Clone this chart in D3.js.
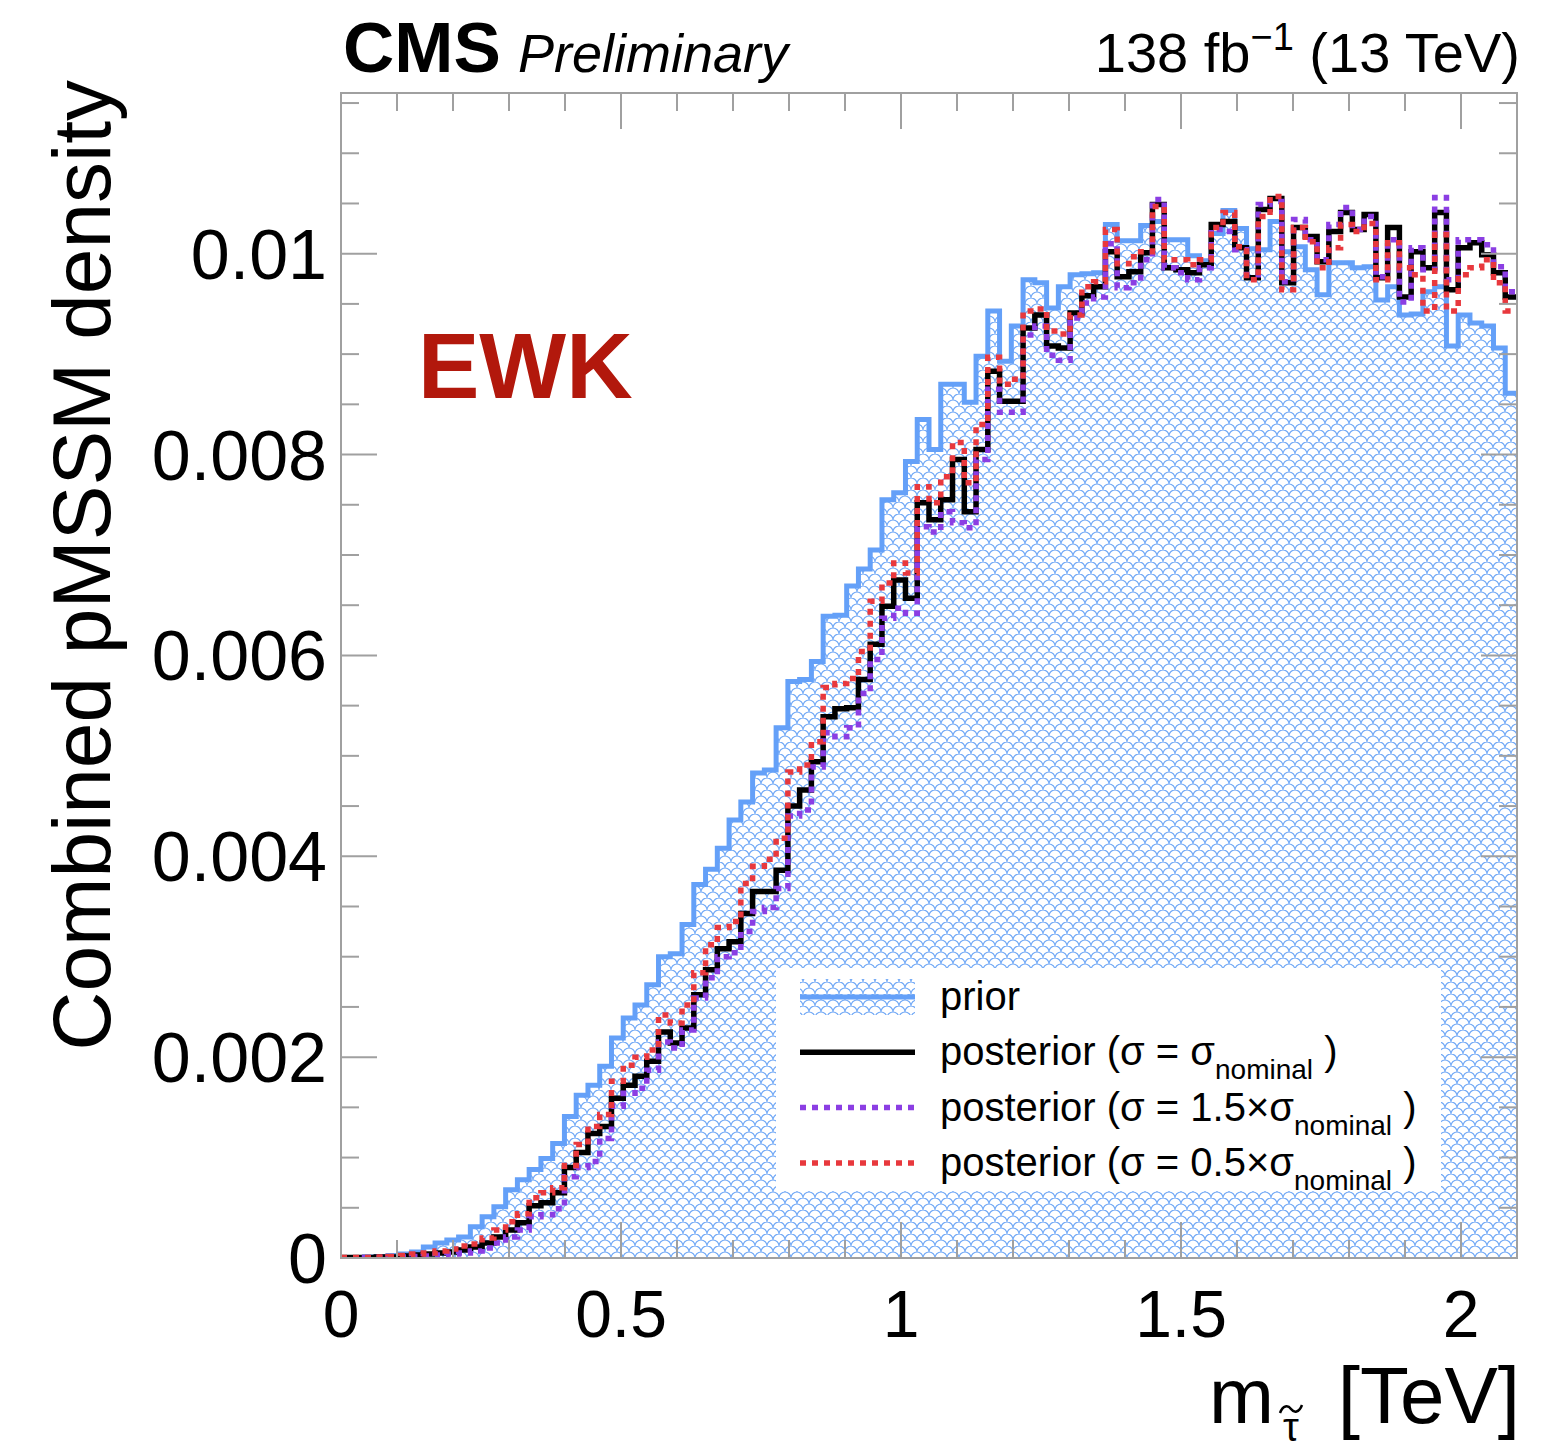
<!DOCTYPE html>
<html>
<head>
<meta charset="utf-8">
<script src="https://cdn.jsdelivr.net/npm/d3@7"></script>
<style>
  body { margin: 0; background: #fff; }
  svg { display: block; font-family: "Liberation Sans", Arial, Helvetica, sans-serif; }
</style>
</head>
<body>
<svg id="chart" width="1562" height="1453"></svg>
<script>
// ─── Data (densities in units of 1e-3, 100 bins from 0 to 2.1 TeV) ──────────
const unit = 1e-3;
const xRange = [0, 2.1];
const nBins = 100;

const prior = [
  0.0, 0.005, 0.01, 0.015, 0.025, 0.04, 0.06, 0.11, 0.15, 0.18,
  0.21, 0.31, 0.41, 0.51, 0.68, 0.78, 0.88, 0.99, 1.14, 1.41,
  1.62, 1.72, 1.91, 2.19, 2.39, 2.52, 2.72, 3.00, 3.03, 3.32,
  3.72, 3.87, 4.08, 4.36, 4.54, 4.83, 4.86, 5.28, 5.74, 5.76,
  5.94, 6.39, 6.40, 6.69, 6.86, 7.05, 7.55, 7.62, 7.93, 8.35,
  8.05, 8.70, 8.70, 8.52, 8.98, 9.43, 8.93, 9.28, 9.74, 9.71,
  9.46, 9.67, 9.79, 9.80, 9.81, 10.29, 10.13, 10.13, 10.28, 10.32,
  10.14, 10.14, 9.98, 9.93, 10.20, 10.43, 10.25, 10.05, 10.04, 10.32,
  10.02, 10.07, 9.84, 9.59, 9.91, 9.91, 9.86, 9.87, 9.54, 9.67,
  9.39, 9.40, 9.62, 9.67, 9.08, 9.39, 9.31, 9.28, 9.06, 8.61
];

const postNominal = [
  0.005, 0.005, 0.005, 0.01, 0.01, 0.02, 0.03, 0.04, 0.05, 0.06,
  0.08, 0.11, 0.15, 0.21, 0.28, 0.35, 0.52, 0.55, 0.65, 0.90,
  1.05, 1.24, 1.31, 1.59, 1.72, 1.81, 1.96, 2.25, 2.14, 2.29,
  2.62, 2.87, 3.08, 3.15, 3.43, 3.65, 3.65, 3.86, 4.50, 4.66,
  4.94, 5.39, 5.47, 5.48, 5.76, 6.11, 6.49, 6.75, 6.57, 7.52,
  7.35, 7.55, 7.95, 7.43, 8.05, 8.83, 8.53, 8.53, 9.26, 9.39,
  9.08, 9.06, 9.41, 9.58, 9.67, 10.02, 9.77, 9.82, 10.01, 10.49,
  9.86, 9.84, 9.81, 9.89, 10.29, 10.32, 10.06, 9.76, 10.44, 10.55,
  9.71, 10.26, 10.17, 9.92, 10.22, 10.41, 10.24, 10.39, 9.76, 10.26,
  9.57, 10.02, 9.86, 10.41, 9.64, 10.06, 10.11, 9.99, 9.81, 9.57
];

const postWide = [ // sigma = 1.5 x nominal
  0.0, 0.0, 0.005, 0.005, 0.01, 0.01, 0.015, 0.02, 0.03, 0.04,
  0.05, 0.07, 0.10, 0.15, 0.21, 0.28, 0.41, 0.43, 0.49, 0.81,
  0.90, 0.96, 1.19, 1.51, 1.64, 1.69, 1.87, 2.15, 2.09, 2.27,
  2.59, 2.79, 3.00, 3.04, 3.25, 3.45, 3.49, 3.68, 4.40, 4.46,
  4.89, 5.23, 5.19, 5.28, 5.62, 5.96, 6.37, 6.47, 6.42, 7.28,
  7.23, 7.43, 7.32, 7.27, 7.95, 8.65, 8.42, 8.42, 9.19, 9.28,
  8.99, 8.94, 9.36, 9.51, 9.57, 10.10, 9.66, 9.71, 9.94, 10.54,
  9.86, 9.81, 9.74, 9.86, 10.24, 10.22, 10.04, 9.79, 10.49, 10.52,
  9.72, 10.34, 10.14, 9.94, 10.29, 10.46, 10.24, 10.37, 9.77, 10.14,
  9.52, 10.06, 9.84, 10.56, 9.74, 10.14, 10.14, 10.09, 9.87, 9.62
];

const postNarrow = [ // sigma = 0.5 x nominal
  0.005, 0.005, 0.005, 0.01, 0.015, 0.025, 0.04, 0.05, 0.07, 0.09,
  0.12, 0.14, 0.20, 0.28, 0.36, 0.44, 0.60, 0.65, 0.70, 0.92,
  1.13, 1.31, 1.43, 1.76, 1.92, 2.00, 2.07, 2.42, 2.34, 2.52,
  2.84, 3.12, 3.29, 3.35, 3.73, 3.90, 3.97, 4.18, 4.84, 4.91,
  5.14, 5.68, 5.72, 5.77, 6.04, 6.54, 6.72, 6.92, 6.82, 7.68,
  7.52, 7.78, 8.12, 7.72, 8.30, 8.97, 8.70, 8.75, 9.43, 9.45,
  9.23, 9.20, 9.39, 9.67, 9.72, 10.24, 9.90, 9.97, 10.02, 10.47,
  9.94, 9.94, 9.89, 9.94, 10.26, 10.41, 10.07, 9.74, 10.37, 10.57,
  9.64, 10.26, 10.12, 9.86, 10.06, 10.29, 10.22, 10.30, 9.74, 10.11,
  9.86, 9.79, 9.43, 10.19, 9.43, 9.79, 9.86, 9.94, 9.71, 9.43
];

const yMax = 0.0116;
const yMajorTicks = [0, 0.002, 0.004, 0.006, 0.008, 0.01];
const yTickLabels = ['0', '0.002', '0.004', '0.006', '0.008', '0.01'];
const xMajorTicks = [0, 0.5, 1, 1.5, 2];
const xTickLabels = ['0', '0.5', '1', '1.5', '2'];

const legendLabels = [
  { key: 'prior', main: 'prior' },
  { key: 'nominal', main: 'posterior (\u03c3 = \u03c3', sub: 'nominal', tail: ' )' },
  { key: 'wide', main: 'posterior (\u03c3 = 1.5\u00d7\u03c3', sub: 'nominal', tail: ' )' },
  { key: 'narrow', main: 'posterior (\u03c3 = 0.5\u00d7\u03c3', sub: 'nominal', tail: ' )' }
];

// ─── Styles ──────────────────────────────────────────────────────────────────
const priorBlue = '#64a0f8';
const hatchBlue = '#72a9f6';
const styles = {
  nominal: { color: '#000000', dash: null },
  wide:    { color: '#8b3ee3', dash: '6,6' },
  narrow:  { color: '#e8383d', dash: '6,6' }
};
const frameGrey = '#a0a0a0';

// ─── Layout ──────────────────────────────────────────────────────────────────
const frame = { left: 341, right: 1517, top: 93, bottom: 1258 };

const svg = d3.select('#chart');
const x = d3.scaleLinear().domain(xRange).range([frame.left, frame.right]);
const y = d3.scaleLinear().domain([0, yMax]).range([frame.bottom, frame.top]);

const edges = d3.range(nBins + 1).map(i => xRange[0] + i * (xRange[1] - xRange[0]) / nBins);

function stepPoints(vals) {
  const pts = vals.map((v, i) => [edges[i], v * unit]);
  pts.push([edges[nBins], vals[nBins - 1] * unit]);
  return pts;
}

const defs = svg.append('defs');

// fish-scale hatch like the ROOT fill style
const pat = defs.append('pattern')
  .attr('id', 'scales')
  .attr('patternUnits', 'userSpaceOnUse')
  .attr('x', frame.left).attr('y', frame.bottom)
  .attr('width', 12).attr('height', 12);
pat.append('path')
  .attr('d', 'M0,6 A6,6 0 0 1 12,6 M-6,12 A6,6 0 0 1 6,12 M6,12 A6,6 0 0 1 18,12 M-6,0 A6,6 0 0 1 6,0 M6,0 A6,6 0 0 1 18,0')
  .attr('fill', 'none')
  .attr('stroke', hatchBlue)
  .attr('stroke-width', 1.1);

defs.append('clipPath').attr('id', 'plotClip')
  .append('rect')
  .attr('x', frame.left).attr('y', frame.top)
  .attr('width', frame.right - frame.left).attr('height', frame.bottom - frame.top);

const plot = svg.append('g').attr('clip-path', 'url(#plotClip)');

const area = d3.area()
  .x(d => x(d[0])).y0(y(0)).y1(d => y(d[1]))
  .curve(d3.curveStepAfter);
const line = d3.line()
  .x(d => x(d[0])).y(d => y(d[1]))
  .curve(d3.curveStepAfter);

plot.append('path')
  .attr('d', area(stepPoints(prior)))
  .attr('fill', 'url(#scales)');
plot.append('path')
  .attr('d', line(stepPoints(prior)))
  .attr('fill', 'none')
  .attr('stroke', priorBlue)
  .attr('stroke-width', 5);

[['nominal', postNominal], ['wide', postWide], ['narrow', postNarrow]].forEach(([key, vals]) => {
  plot.append('path')
    .attr('d', line(stepPoints(vals)))
    .attr('fill', 'none')
    .attr('stroke', styles[key].color)
    .attr('stroke-width', 5.5)
    .attr('stroke-dasharray', styles[key].dash);
});

// ─── Frame and ticks ─────────────────────────────────────────────────────────
const axes = svg.append('g').attr('stroke', frameGrey).attr('stroke-width', 2);
axes.append('rect')
  .attr('x', frame.left).attr('y', frame.top)
  .attr('width', frame.right - frame.left).attr('height', frame.bottom - frame.top)
  .attr('fill', 'none');

const yMinor = d3.range(0, yMax + 1e-9, 0.0005);
yMinor.forEach(v => {
  const major = yMajorTicks.some(t => Math.abs(t - v) < 1e-9);
  const len = major ? 36 : 18;
  axes.append('line').attr('x1', frame.left).attr('x2', frame.left + len).attr('y1', y(v)).attr('y2', y(v));
  axes.append('line').attr('x1', frame.right).attr('x2', frame.right - len).attr('y1', y(v)).attr('y2', y(v));
});

const xMinor = d3.range(0, xRange[1] + 1e-9, 0.1);
xMinor.forEach(v => {
  const major = xMajorTicks.some(t => Math.abs(t - v) < 1e-9);
  const len = major ? 36 : 18;
  axes.append('line').attr('x1', x(v)).attr('x2', x(v)).attr('y1', frame.bottom).attr('y2', frame.bottom - len);
  axes.append('line').attr('x1', x(v)).attr('x2', x(v)).attr('y1', frame.top).attr('y2', frame.top + len);
});

// tick labels
svg.append('g').selectAll('text')
  .data(yMajorTicks)
  .join('text')
  .attr('x', 327)
  .attr('y', d => y(d) + 25)
  .attr('text-anchor', 'end')
  .attr('font-size', 70)
  .text((d, i) => yTickLabels[i]);

svg.append('g').selectAll('text')
  .data(xMajorTicks)
  .join('text')
  .attr('x', d => x(d))
  .attr('y', 1337)
  .attr('text-anchor', 'middle')
  .attr('font-size', 66)
  .text((d, i) => xTickLabels[i]);

// ─── Axis titles ─────────────────────────────────────────────────────────────
svg.append('text')
  .attr('transform', 'translate(110,80) rotate(-90)')
  .attr('text-anchor', 'end')
  .attr('font-size', 82)
  .text('Combined pMSSM density');

svg.append('text')
  .attr('x', 1520).attr('y', 1423)
  .attr('text-anchor', 'end')
  .attr('font-size', 80)
  .text('[TeV]');
svg.append('text')
  .attr('x', 1274).attr('y', 1423)
  .attr('text-anchor', 'end')
  .attr('font-size', 78)
  .text('m');
svg.append('text')
  .attr('x', 1291).attr('y', 1441)
  .attr('text-anchor', 'middle')
  .attr('font-size', 40)
  .text('\u03c4');
// tilde over the tau
svg.append('path')
  .attr('d', 'M1280,1413 C1283,1405 1288,1405 1291,1409 C1294,1413 1299,1413 1302,1405')
  .attr('fill', 'none')
  .attr('stroke', '#000')
  .attr('stroke-width', 2.5);

// ─── Header ──────────────────────────────────────────────────────────────────
svg.append('text')
  .attr('x', 343).attr('y', 72)
  .attr('font-size', 71).attr('font-weight', 'bold')
  .text('CMS');
svg.append('text')
  .attr('x', 518).attr('y', 72)
  .attr('font-size', 54).attr('font-style', 'italic')
  .text('Preliminary');

const lumi = svg.append('text')
  .attr('x', 1520).attr('y', 72)
  .attr('text-anchor', 'end')
  .attr('font-size', 56);
lumi.append('tspan').text('138 fb');
lumi.append('tspan').attr('dy', -22).attr('font-size', 38).text('\u22121');
lumi.append('tspan').attr('dy', 22).text(' (13 TeV)');

svg.append('text')
  .attr('x', 418).attr('y', 398)
  .attr('font-size', 92).attr('font-weight', 'bold')
  .attr('fill', '#b2180c')
  .text('EWK');

// ─── Legend ──────────────────────────────────────────────────────────────────
const legend = svg.append('g');
legend.append('rect')
  .attr('x', 776).attr('y', 968)
  .attr('width', 665).attr('height', 223)
  .attr('fill', '#fff');

const rowY = i => 997 + i * 55.3;
legendLabels.forEach((entry, i) => {
  const cy = rowY(i);
  if (entry.key === 'prior') {
    legend.append('rect')
      .attr('x', 800).attr('y', cy - 18)
      .attr('width', 115).attr('height', 36)
      .attr('fill', 'url(#scales)');
    legend.append('line')
      .attr('x1', 800).attr('x2', 915).attr('y1', cy).attr('y2', cy)
      .attr('stroke', priorBlue).attr('stroke-width', 5);
  } else {
    legend.append('line')
      .attr('x1', 800).attr('x2', 915).attr('y1', cy).attr('y2', cy)
      .attr('stroke', styles[entry.key].color).attr('stroke-width', 5.5)
      .attr('stroke-dasharray', styles[entry.key].dash);
  }
  const t = legend.append('text')
    .attr('x', 940).attr('y', cy + 13)
    .attr('font-size', 40);
  t.append('tspan').text(entry.main);
  if (entry.sub) {
    t.append('tspan').attr('dy', 14).attr('font-size', 28).text(entry.sub);
    t.append('tspan').attr('dy', -14).text(entry.tail);
  }
});
</script>
</body>
</html>
